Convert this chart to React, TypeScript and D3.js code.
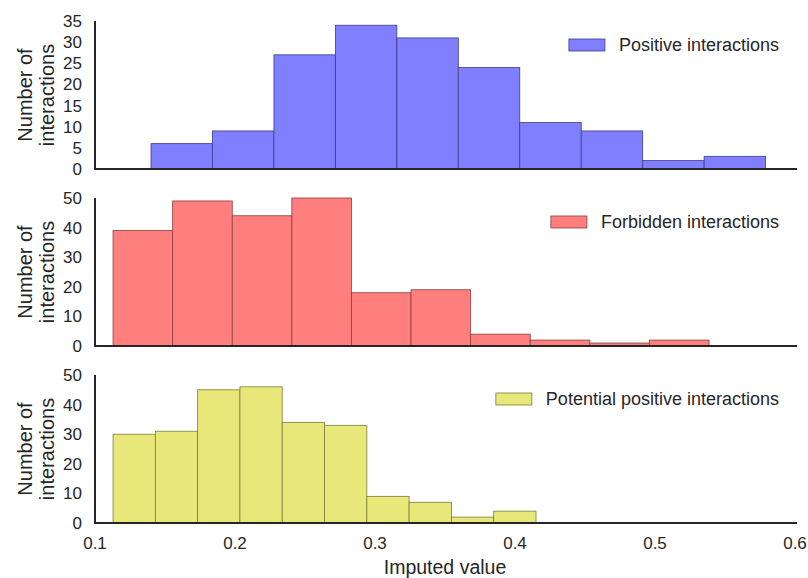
import React, { useEffect, useRef } from 'react';
import * as d3 from 'd3';

// counts per bin
const positiveCounts = [6, 9, 27, 34, 31, 24, 11, 9, 2, 3];
const forbiddenCounts = [39, 49, 44, 50, 18, 19, 4, 2, 1, 2];
const potentialCounts = [30, 31, 45, 46, 34, 33, 9, 7, 2, 4];

// bin ranges (imputed value) for each histogram
const positiveRange = [0.14, 0.579];
const forbiddenRange = [0.1129, 0.5386];
const potentialRange = [0.1129, 0.415];

const xTicks = [0.1, 0.2, 0.3, 0.4, 0.5, 0.6];
const positiveTicks = [0, 5, 10, 15, 20, 25, 30, 35];
const otherTicks = [0, 10, 20, 30, 40, 50];

const panels = [
  { label: 'Positive interactions', counts: positiveCounts, range: positiveRange, ticks: positiveTicks, yMax: 35, top: 21, bottom: 169, fill: '#7f7fff', stroke: '#3c3c8c', legendY: 45 },
  { label: 'Forbidden interactions', counts: forbiddenCounts, range: forbiddenRange, ticks: otherTicks, yMax: 50, top: 198, bottom: 346, fill: '#ff7f7f', stroke: '#8c3c3c', legendY: 222 },
  { label: 'Potential positive interactions', counts: potentialCounts, range: potentialRange, ticks: otherTicks, yMax: 50, top: 375, bottom: 523, fill: '#e8e87a', stroke: '#7c7c3c', legendY: 399 },
];

export default function App() {
  const svgRef = useRef<SVGSVGElement>(null);

  useEffect(() => {
    const svg = d3.select(svgRef.current);
    svg.selectAll('*').remove();
    const font = 'Liberation Sans, Arial, sans-serif';
    const ink = '#262626';

    const x = d3.scaleLinear().domain([0.1, 0.6]).range([95, 795]);

    panels.forEach((p) => {
      const y = d3.scaleLinear().domain([0, p.yMax]).range([p.bottom, p.top]);
      const g = svg.append('g');
      const n = p.counts.length;
      const step = (p.range[1] - p.range[0]) / n;
      const bins = p.counts.map((c, i) => ({ x0: p.range[0] + i * step, x1: p.range[0] + (i + 1) * step, c }));

      g.selectAll('rect.bar')
        .data(bins)
        .join('rect')
        .attr('class', 'bar')
        .attr('x', (d) => x(d.x0))
        .attr('width', (d) => x(d.x1) - x(d.x0))
        .attr('y', (d) => y(d.c))
        .attr('height', (d) => y(0) - y(d.c))
        .attr('fill', p.fill)
        .attr('stroke', p.stroke)
        .attr('stroke-width', 0.8);

      // axes, no tick marks
      g.append('line')
        .attr('x1', x(0.1)).attr('x2', 797)
        .attr('y1', y(0)).attr('y2', y(0))
        .attr('stroke', ink).attr('stroke-width', 2);
      g.append('line')
        .attr('x1', x(0.1)).attr('x2', x(0.1))
        .attr('y1', y(0) + 1).attr('y2', y(p.yMax))
        .attr('stroke', ink).attr('stroke-width', 2);

      g.selectAll('text.ytick')
        .data(p.ticks)
        .join('text')
        .attr('class', 'ytick')
        .attr('x', 82)
        .attr('y', (d) => y(d))
        .attr('dy', '0.35em')
        .attr('text-anchor', 'end')
        .attr('font-family', font)
        .attr('font-size', 17)
        .attr('fill', ink)
        .text((d) => d);

      const mid = (p.top + p.bottom) / 2;
      const yl = g.append('text')
        .attr('transform', `translate(25,${mid}) rotate(-90)`)
        .attr('text-anchor', 'middle')
        .attr('font-family', font)
        .attr('font-size', 20)
        .attr('fill', ink);
      yl.append('tspan').attr('x', 0).attr('dy', '0.35em').text('Number of');
      yl.append('tspan').attr('x', 0).attr('dy', '1.1em').text('interactions');

      // legend: text right-aligned, patch placed before it
      const textEnd = 779;
      const lt = g.append('text')
        .attr('x', textEnd).attr('y', p.legendY)
        .attr('dy', '0.35em')
        .attr('text-anchor', 'end')
        .attr('font-family', font)
        .attr('font-size', 18)
        .attr('fill', ink)
        .text(p.label);
      const tw = (lt.node() as SVGTextElement).getComputedTextLength();
      g.append('rect')
        .attr('x', textEnd - tw - 14 - 36).attr('y', p.legendY - 6)
        .attr('width', 36).attr('height', 12)
        .attr('fill', p.fill).attr('stroke', p.stroke).attr('stroke-width', 0.8);
    });

    svg.selectAll('text.xtick')
      .data(xTicks)
      .join('text')
      .attr('class', 'xtick')
      .attr('x', (d) => x(d))
      .attr('y', 543)
      .attr('dy', '0.35em')
      .attr('text-anchor', 'middle')
      .attr('font-family', font)
      .attr('font-size', 17)
      .attr('fill', ink)
      .text((d) => d3.format('.1f')(d));

    svg.append('text')
      .attr('x', (x(0.1) + x(0.6)) / 2)
      .attr('y', 567)
      .attr('dy', '0.35em')
      .attr('text-anchor', 'middle')
      .attr('font-family', font)
      .attr('font-size', 19.5)
      .attr('fill', ink)
      .text('Imputed value');
  }, []);

  return (
    <svg ref={svgRef} width={808} height={578} style={{ position: 'absolute', left: 0, top: 0, background: '#fff' }} />
  );
}
